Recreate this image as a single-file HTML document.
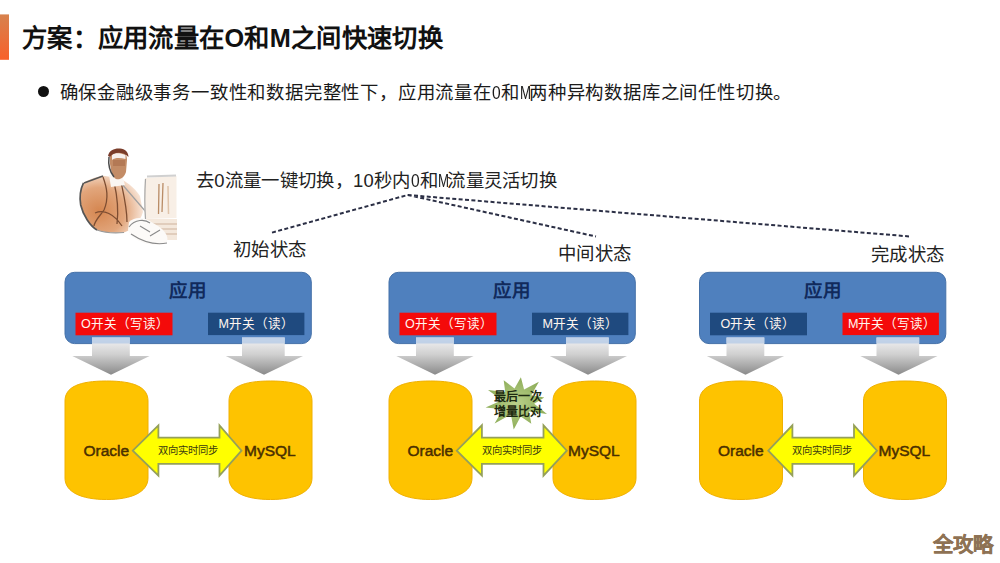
<!DOCTYPE html>
<html lang="zh-CN"><head><meta charset="utf-8">
<style>
html,body{margin:0;padding:0;background:#fff;}
body{width:1000px;height:563px;position:relative;overflow:hidden;font-family:"Liberation Sans",sans-serif;}
svg{position:absolute;left:0;top:0;}
.t{position:absolute;white-space:nowrap;line-height:1;}
.hw{display:inline-block;width:0.5em;transform:scaleX(0.85);transform-origin:0 0;} .hm{display:inline-block;width:0.5em;transform:scaleX(0.72);transform-origin:0 0;}
.title{font-size:25.3px;letter-spacing:0.3px;font-weight:900;color:#111;}
.bul{font-weight:500;font-size:18.4px;letter-spacing:0.8px;color:#1a1a1a;}
.lab{font-weight:500;font-size:18.4px;letter-spacing:0.3px;color:#222;}
.app{font-size:18.5px;font-weight:bold;color:#112a5c;}
.sw{font-size:12.6px;color:#fff6f0;}
.db{font-size:15.5px;color:#4a2f00;-webkit-text-stroke:0.5px #4a2f00;}
.sync{font-size:10.3px;color:#3a3a10;}
.star{font-size:12px;font-weight:bold;color:#1e2a10;line-height:15.5px;text-align:center;}
.wm{font-size:20.5px;font-weight:bold;color:#8e7254;-webkit-text-stroke:0.3px #8e7254;}
</style></head><body>
<svg width="1000" height="563" viewBox="0 0 1000 563">
<defs><linearGradient id="ga" x1="0" y1="0" x2="0" y2="1"><stop offset="0" stop-color="#f4f4f6"/><stop offset="0.45" stop-color="#d0d0d0"/><stop offset="1" stop-color="#8a8a8a"/></linearGradient><linearGradient id="gor" x1="0" y1="0" x2="0" y2="1"><stop offset="0" stop-color="#d7824e"/><stop offset="1" stop-color="#f8602a"/></linearGradient><radialGradient id="gst" cx="0.5" cy="0.5" r="0.5"><stop offset="0" stop-color="#b9d08a"/><stop offset="1" stop-color="#8fae5a"/></radialGradient><radialGradient id="gbody" cx="0.3" cy="0.62" r="0.75"><stop offset="0" stop-color="#d58650"/><stop offset="0.55" stop-color="#e2a67c"/><stop offset="1" stop-color="#fbefe6"/></radialGradient><filter id="bl" x="-10%" y="-10%" width="120%" height="120%"><feGaussianBlur stdDeviation="0.7"/></filter></defs>
<rect x="0" y="14.4" width="9" height="45.4" fill="url(#gor)"/>
<path d="M272 232.6 L407.6 195 L596 236.5 M407.6 195 L909 236.4" fill="none" stroke="#2b2f45" stroke-width="2" stroke-dasharray="4 2.4"/>
<rect x="65" y="272.3" width="246.3" height="71.3" rx="9.5" ry="9.5" fill="#4f80be" stroke="#4571a8" stroke-width="1"/>
<rect x="75.5" y="312.7" width="97" height="22.6" fill="#f40a0a"/>
<rect x="208" y="312.7" width="96.4" height="22.4" fill="#1f4a7f"/>
<path d="M92 337.5 L129.8 337.5 L129.8 356 L149.6 356 L111 374.8 L72.3 356 L92 356 Z" fill="url(#ga)"/>
<rect x="92" y="337.5" width="37.80000000000001" height="6" fill="#b9cde6" opacity="0.85"/>
<path d="M242 337.5 L284.7 337.5 L284.7 356 L303 356 L264 374.8 L225.8 356 L242 356 Z" fill="url(#ga)"/>
<rect x="242" y="337.5" width="42.69999999999999" height="6" fill="#b9cde6" opacity="0.85"/>
<path d="M65 401 C65 387 79 381 106.5 381 C134 381 148 387 148 401 L148 478 C148 492 132 499.5 106.5 499.5 C81 499.5 65 492 65 478 Z" fill="#fec300" stroke="#f0b000" stroke-width="1"/>
<path d="M229 401 C229 387 243 381 270.5 381 C298 381 312 387 312 401 L312 478 C312 492 296 499.5 270.5 499.5 C245 499.5 229 492 229 478 Z" fill="#fec300" stroke="#f0b000" stroke-width="1"/>
<path d="M132.8 450.7 L158.4 425.3 L158.4 437.6 L219.5 437.6 L219.5 425.3 L241.5 450.7 L219.5 475.6 L219.5 463.8 L158.4 463.8 L158.4 475.6 Z" fill="#ffff00" stroke="#95a05a" stroke-width="1.8" stroke-linejoin="miter"/>
<rect x="389" y="272.3" width="246.3" height="71.3" rx="9.5" ry="9.5" fill="#4f80be" stroke="#4571a8" stroke-width="1"/>
<rect x="399.5" y="312.7" width="97" height="22.6" fill="#f40a0a"/>
<rect x="532" y="312.7" width="96.4" height="22.4" fill="#1f4a7f"/>
<path d="M416 337.5 L453.8 337.5 L453.8 356 L473.6 356 L435 374.8 L396.3 356 L416 356 Z" fill="url(#ga)"/>
<rect x="416" y="337.5" width="37.80000000000001" height="6" fill="#b9cde6" opacity="0.85"/>
<path d="M566 337.5 L608.7 337.5 L608.7 356 L627 356 L588 374.8 L549.8 356 L566 356 Z" fill="url(#ga)"/>
<rect x="566" y="337.5" width="42.69999999999999" height="6" fill="#b9cde6" opacity="0.85"/>
<path d="M389 401 C389 387 403 381 430.5 381 C458 381 472 387 472 401 L472 478 C472 492 456 499.5 430.5 499.5 C405 499.5 389 492 389 478 Z" fill="#fec300" stroke="#f0b000" stroke-width="1"/>
<path d="M553 401 C553 387 567 381 594.5 381 C622 381 636 387 636 401 L636 478 C636 492 620 499.5 594.5 499.5 C569 499.5 553 492 553 478 Z" fill="#fec300" stroke="#f0b000" stroke-width="1"/>
<path d="M456.8 450.7 L481.9 425.3 L481.9 437.6 L543.5 437.6 L543.5 425.3 L566.8 450.7 L543.5 475.6 L543.5 463.8 L481.9 463.8 L481.9 475.6 Z" fill="#ffff00" stroke="#95a05a" stroke-width="1.8" stroke-linejoin="miter"/>
<rect x="699.5" y="272.3" width="246.3" height="71.3" rx="9.5" ry="9.5" fill="#4f80be" stroke="#4571a8" stroke-width="1"/>
<rect x="710.0" y="312.7" width="97" height="22.6" fill="#1f4a7f"/>
<rect x="842.5" y="312.7" width="96.4" height="22.4" fill="#f40a0a"/>
<path d="M726.5 337.5 L764.3 337.5 L764.3 356 L784.1 356 L745.5 374.8 L706.8 356 L726.5 356 Z" fill="url(#ga)"/>
<rect x="726.5" y="337.5" width="37.80000000000001" height="6" fill="#b9cde6" opacity="0.85"/>
<path d="M876.5 337.5 L919.2 337.5 L919.2 356 L937.5 356 L898.5 374.8 L860.3 356 L876.5 356 Z" fill="url(#ga)"/>
<rect x="876.5" y="337.5" width="42.69999999999999" height="6" fill="#b9cde6" opacity="0.85"/>
<path d="M699.5 401 C699.5 387 713.5 381 741.0 381 C768.5 381 782.5 387 782.5 401 L782.5 478 C782.5 492 766.5 499.5 741.0 499.5 C715.5 499.5 699.5 492 699.5 478 Z" fill="#fec300" stroke="#f0b000" stroke-width="1"/>
<path d="M863.5 401 C863.5 387 877.5 381 905.0 381 C932.5 381 946.5 387 946.5 401 L946.5 478 C946.5 492 930.5 499.5 905.0 499.5 C879.5 499.5 863.5 492 863.5 478 Z" fill="#fec300" stroke="#f0b000" stroke-width="1"/>
<path d="M768.3 450.7 L792.4 425.3 L792.4 437.6 L854.0 437.6 L854.0 425.3 L877.0 450.7 L854.0 475.6 L854.0 463.8 L792.4 463.8 L792.4 475.6 Z" fill="#ffff00" stroke="#95a05a" stroke-width="1.8" stroke-linejoin="miter"/>
<polygon points="520.9,377.3 524.1,389.5 538.9,381.8 531.3,395.3 544.3,397.4 534.2,403.8 547.0,414.0 529.0,411.4 531.3,423.7 520.7,416.4 513.7,429.4 510.9,414.5 494.6,423.6 502.8,409.2 485.6,407.5 501.9,400.3 488.0,390.0 505.2,392.0 503.7,380.3 514.5,388.5" fill="url(#gst)" filter="url(#bl)"/>

<g filter="url(#bl)">
 <path d="M83.5 182.8 C80 190 79.5 198 80.7 205 C83 215 90 226 97 230 C105 233 118 233 124 232.5 C132 230 140 222 143 212 L140 196 C134 187 126 181 118 178 L103.4 175.7 C95 177 88 180 83.5 182.8 Z" fill="url(#gbody)"/>
 <path d="M83.5 182.8 C80 190 79.5 198 80.7 205 C83 215 90 226 97 230" fill="none" stroke="#555" stroke-width="1.7"/>
 <path d="M97 230 C105 233 118 233 124 232.5" fill="none" stroke="#9a9a9a" stroke-width="1.2"/>
 <path d="M84 183 L103 176" stroke="#555" stroke-width="1.5" fill="none"/>
 <path d="M103 177 C107 188 109 198 104 210 C100 216 95 220 94 226 M95 213 C104 209 114 214 122 226 M114 182 C117 195 119 208 117 224 M121 182 C124 196 127 208 127 222" stroke="#7e4e32" stroke-width="1.3" fill="none"/>
 <path d="M121 183 L146 212" stroke="#a0a0a0" stroke-width="1.2" fill="none"/>
 <path d="M109 175 L122 175 L125 185 L111 187 Z" fill="#faf6f2"/>
 <path d="M110 158 C110 152 114 150 118 150 C124 150 127 154 127 160 L126 172 C124 178 120 180 116 179 C112 177 111 170 110 164 Z" fill="#c38c66"/>
 <path d="M113 160 L125 160 L125 166 L113 166 Z" fill="#a86c48" opacity="0.6"/>
 <path d="M112 155 C114 152.5 120 152.5 125.5 155 L125.5 159 C120 157.5 115 157.5 112 160 Z" fill="#f6efec"/>
 <path d="M108 156 C109 150 115 148 120 148.5 C125 149 128.5 152 128.5 157 C124 152 114 151 110 157 Z" fill="#7a3c2c"/>
 <path d="M109 157 C108 165 110 172 114 177" stroke="#4c4c4c" stroke-width="1.5" fill="none"/>
 <path d="M145 178 L176.5 176 L176.5 218 L145 219 C144 205 144 190 145 178 Z" fill="#f8efe6"/>
 <path d="M145.5 179 C144.5 195 144.5 205 145.5 219" stroke="#a8a8a8" stroke-width="1.2" fill="none"/>
 <path d="M147 176.5 L176 175.5" stroke="#d0d0d0" stroke-width="2" fill="none"/>
 <path d="M159 184 L158.5 214 M163 183 L162 212" stroke="#b98c66" stroke-width="1.3" fill="none"/>
 <path d="M168 186 L168.5 214" stroke="#e0c4aa" stroke-width="1.5" fill="none"/>
 <path d="M145 219 L177 219 L177 240 L150 240 Z" fill="#f4e8dc"/>
 <path d="M150 224 L177 224 M150 229 L177 229 M152 234 L177 234" stroke="#c9ad94" stroke-width="0.9"/>
 <path d="M129 222 C134 217 142 217 148 220 L158 226 C164 230 169 236 167 242 C160 246 150 245 144 243 C136 240 130 236 128 230 Z" fill="#fcfaf8"/>
 <path d="M129 227 C135 219 145 219 150 223 M131 234 C140 240 152 246 167 243 M150 236 L160 230 M140 226 L150 232" stroke="#8a8a8a" stroke-width="1.1" fill="none"/>
</g>
</svg>
<div class="t title" style="left:22px;top:25.5px">方案：应用流量在O和M之间快速切换</div>
<div class="t" style="left:37.5px;top:86.2px;width:11px;height:11px;border-radius:50%;background:#111"></div>
<div class="t bul" style="left:59.5px;top:83.5px">确保金融级事务一致性和数据完整性下，应用流量在<span class="hw">0</span>和<span class="hm">M</span>两种异构数据库之间任性切换。</div>
<div class="t lab" style="left:196px;top:171.5px">去0流量一键切换，10秒内<span class="hw">0</span>和<span class="hm">M</span>流量灵活切换</div>
<div class="t lab" style="left:233px;top:241px">初始状态</div>
<div class="t lab" style="left:558px;top:245px">中间状态</div>
<div class="t lab" style="left:871px;top:246px">完成状态</div>
<div class="t app" style="left:169px;top:281.5px">应用</div>
<div class="t sw" style="left:81.0px;top:317.5px">O开关（写读）</div>
<div class="t sw" style="left:218.5px;top:317.5px">M开关（读）</div>
<div class="t db" style="left:83.5px;top:443px">Oracle</div>
<div class="t db" style="left:244px;top:442.5px">MySQL</div>
<div class="t sync" style="left:157.5px;top:445.5px">双向实时同步</div>
<div class="t app" style="left:493px;top:281.5px">应用</div>
<div class="t sw" style="left:405.0px;top:317.5px">O开关（写读）</div>
<div class="t sw" style="left:542.5px;top:317.5px">M开关（读）</div>
<div class="t db" style="left:407.5px;top:443px">Oracle</div>
<div class="t db" style="left:568px;top:442.5px">MySQL</div>
<div class="t sync" style="left:481.5px;top:445.5px">双向实时同步</div>
<div class="t app" style="left:803.5px;top:281.5px">应用</div>
<div class="t sw" style="left:720.5px;top:317.5px">O开关（读）</div>
<div class="t sw" style="left:848.0px;top:317.5px">M开关（写读）</div>
<div class="t db" style="left:718.0px;top:443px">Oracle</div>
<div class="t db" style="left:878.5px;top:442.5px">MySQL</div>
<div class="t sync" style="left:792.0px;top:445.5px">双向实时同步</div>
<div class="t star" style="left:490px;top:389.5px;width:56px">最后一次<br>增量比对</div>
<div class="t wm" style="left:933px;top:535px">全攻略</div>
</body></html>
